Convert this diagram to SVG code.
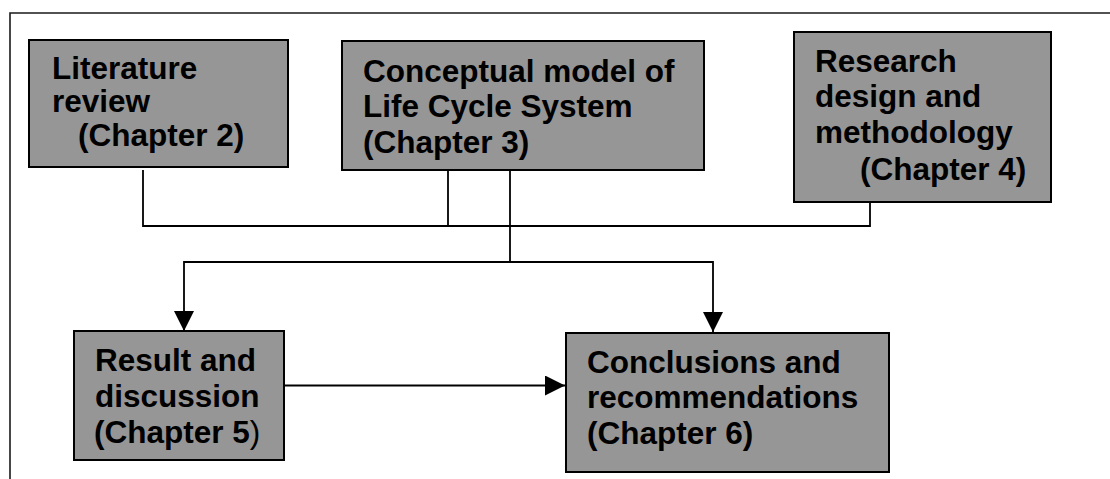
<svg xmlns="http://www.w3.org/2000/svg" width="1110" height="479" viewBox="0 0 1110 479">
  <style>
    .box { fill: #969696; stroke: #000; stroke-width: 2; }
    .lbl { font-family: "Liberation Sans", Arial, sans-serif; font-weight: bold; font-size: 31.5px; fill: #000; }
    .wire { fill: none; stroke: #000; stroke-width: 1.8; }
    .frame { fill: none; stroke: #1a1a1a; stroke-width: 1.6; }
  </style>
  <defs>
    <marker id="arrow" viewBox="0 0 20 20" refX="20" refY="10" markerWidth="20" markerHeight="20" markerUnits="userSpaceOnUse" orient="auto">
      <path d="M0,0 L20,10 L0,20 Z" fill="#000"/>
    </marker>
  </defs>

  <rect width="1110" height="479" fill="#fff"/>

  <!-- page frame -->
  <path class="frame" d="M10,479 V13 H1110"/>

  <!-- connectors -->
  <g id="connectors">
    <path class="wire" d="M143,170 V226 H870 V202"/>
    <path class="wire" d="M448,171 V226"/>
    <path class="wire" d="M510,171 V262"/>
    <path class="wire" d="M510,262 H184 V331" marker-end="url(#arrow)"/>
    <path class="wire" d="M510,262 H713 V332" marker-end="url(#arrow)"/>
    <path class="wire" d="M285,385.5 H565" marker-end="url(#arrow)"/>
  </g>

  <g id="literature-review">
    <rect class="box" x="29" y="40" width="259" height="127"/>
    <text class="lbl">
      <tspan x="52" y="79">Literature</tspan>
      <tspan x="52" y="112">review</tspan>
      <tspan x="78" y="146">(Chapter 2)</tspan>
    </text>
  </g>

  <g id="conceptual-model">
    <rect class="box" x="342" y="41" width="362" height="129"/>
    <text class="lbl">
      <tspan x="363" y="82">Conceptual model of</tspan>
      <tspan x="363" y="117">Life Cycle System</tspan>
      <tspan x="363" y="153">(Chapter 3)</tspan>
    </text>
  </g>

  <g id="research-design">
    <rect class="box" x="794" y="32" width="257" height="170"/>
    <text class="lbl">
      <tspan x="815" y="72">Research</tspan>
      <tspan x="815" y="107">design and</tspan>
      <tspan x="815" y="143">methodology</tspan>
      <tspan x="860" y="180">(Chapter 4)</tspan>
    </text>
  </g>

  <g id="result-discussion">
    <rect class="box" x="74" y="331" width="210" height="129"/>
    <text class="lbl">
      <tspan x="95" y="371">Result and</tspan>
      <tspan x="95" y="407">discussion</tspan>
      <tspan x="94" y="443">(Chapter 5<tspan font-weight="normal">)</tspan></tspan>
    </text>
  </g>

  <g id="conclusions">
    <rect class="box" x="566" y="333" width="323" height="139"/>
    <text class="lbl">
      <tspan x="587" y="373">Conclusions and</tspan>
      <tspan x="587" y="408">recommendations</tspan>
      <tspan x="587" y="444">(Chapter 6)</tspan>
    </text>
  </g>
</svg>
